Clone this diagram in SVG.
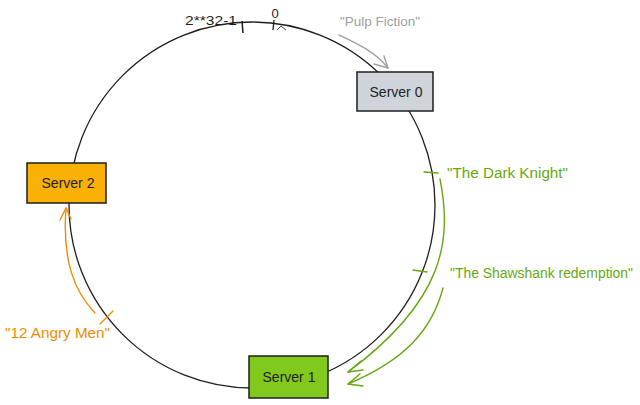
<svg xmlns="http://www.w3.org/2000/svg" width="640" height="405" viewBox="0 0 640 405">
<style>
text{font-family:"Liberation Sans","DejaVu Sans",sans-serif}
.lbl{font-size:14px;fill:#1e1e1e;text-anchor:middle;dominant-baseline:central}
.box{stroke:#1e1e1e;stroke-width:1.5}
.g{stroke:#66a80f;fill:none;stroke-width:1.4;stroke-linecap:round}
.o{stroke:#f08c00;fill:none;stroke-width:1.4;stroke-linecap:round}
.gr{stroke:#a0a0a0;fill:none;stroke-width:1.4;stroke-linecap:round}
.gt{fill:#66a80f;font-size:14px;dominant-baseline:central}
.ot{fill:#f08c00;font-size:14px;dominant-baseline:central}
</style>
<rect width="640" height="405" fill="#fff"/>
<g id="ring">
<circle cx="252" cy="205" r="183" fill="none" stroke="#1e1e1e" stroke-width="1.3"/>
<line x1="242" y1="21" x2="243" y2="33" stroke="#1e1e1e" stroke-width="1.5"/>
<line x1="274" y1="20" x2="273" y2="30" stroke="#1e1e1e" stroke-width="1.3"/>
<path d="M277,30 L281,26 L286,30" fill="none" stroke="#1e1e1e" stroke-width="0.8"/>
<text x="185" y="20" font-size="13" fill="#1e1e1e" dominant-baseline="central" textLength="52" lengthAdjust="spacingAndGlyphs">2**32-1</text>
<text x="275" y="13" font-size="13" fill="#1e1e1e" text-anchor="middle" dominant-baseline="central">0</text>
</g>
<g id="connectors">
<path class="gr" d="M339,35 C360,45 375,52 388,68"/>
<path class="gr" d="M388,68 L374,64 M388,68 L384,56"/>
<line class="g" x1="424" y1="172" x2="438" y2="173" stroke-width="2"/>
<line class="g" x1="413" y1="270" x2="427" y2="272" stroke-width="2.5"/>
<path class="g" d="M440,179 C452,240 445,300 348,372"/>
<path class="g" d="M348,372 L361,361 M348,372 L363,370"/>
<path class="g" d="M443,288 C432,330 405,360 348,384"/>
<path class="g" d="M348,384 L360,374 M348,384 L363,386"/>
<line class="o" x1="100" y1="324" x2="113" y2="311"/>
<path class="o" d="M95,313 C75,292 62,262 66,208"/>
<path class="o" d="M66,208 L60,220 M66,208 L71,219"/>
</g>
<g id="server0">
<rect class="box" x="357" y="72" width="76" height="39" fill="#ced4da"/>
<text class="lbl" x="396" y="92">Server 0</text>
</g>
<g id="server1">
<rect class="box" x="249" y="356" width="79" height="42" fill="#82c91e"/>
<text class="lbl" x="289" y="377">Server 1</text>
</g>
<g id="server2">
<rect class="box" x="27" y="163" width="79" height="40" fill="#fab005"/>
<text class="lbl" x="68" y="183">Server 2</text>
</g>
<g id="labels">
<text x="340" y="21" font-size="13" fill="#a0a0a0" dominant-baseline="central" textLength="80" lengthAdjust="spacingAndGlyphs">"Pulp Fiction"</text>
<text class="gt" x="447" y="173" textLength="121" lengthAdjust="spacingAndGlyphs">"The Dark Knight"</text>
<text class="gt" x="450" y="273" textLength="183" lengthAdjust="spacingAndGlyphs">"The Shawshank redemption"</text>
<text class="ot" x="5" y="333" textLength="105" lengthAdjust="spacingAndGlyphs">"12 Angry Men"</text>
</g>
</svg>
